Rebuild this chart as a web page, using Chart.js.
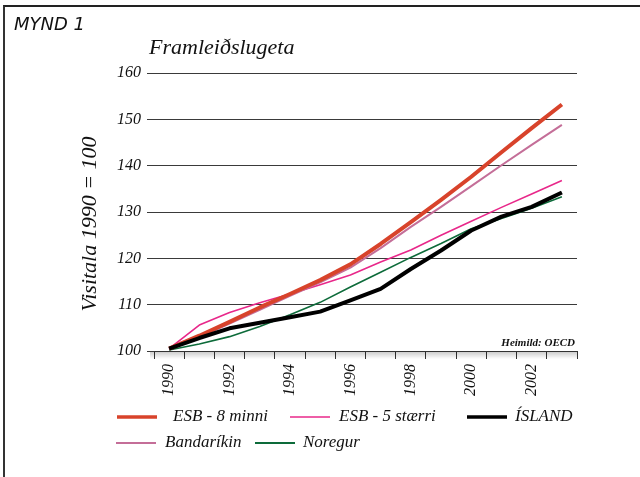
<!DOCTYPE html>
<html>
<head>
<meta charset="utf-8">
<script src="https://cdn.jsdelivr.net/npm/chart.js@4/dist/chart.umd.min.js"></script>
<style>
  body { margin: 0; background: #fff; }
  #wrap { position: relative; width: 640px; height: 477px; }
  #frame { position: absolute; left: 3px; top: 5px; right: 0; bottom: 0;
           border-top: 2px solid #222; border-left: 2px solid #333; pointer-events: none; }
  #mynd { position: absolute; left: 14px; top: 13px; font: italic 18px "DejaVu Sans", sans-serif; color: #111; }
  #title { position: absolute; left: 149px; top: 34px; font: italic 22px "Liberation Serif", serif; color: #111; }
</style>
</head>
<body>
<div id="wrap">
  <canvas id="chart" width="640" height="477"></canvas>
  <div id="frame"></div>
  <div id="mynd">MYND 1</div>
  <div id="title">Framleiðslugeta</div>
</div>
<script>
// ár og vísitölur (1990 = 100), lesið af myndinni
const years = ['1990','1991','1992','1993','1994','1995','1996','1997','1998','1999','2000','2001','2002','2003'];
const esb8 = [100.5,103.3,106.3,109.4,112.3,115.3,118.7,123.1,127.8,132.6,137.6,142.9,148.1,153.2];
const esb5 = [100.5,105.6,108.3,110.4,112.3,114.3,116.4,119.2,121.8,125.0,128.0,131.0,133.9,136.8];
const island = [100.5,102.8,104.9,106.1,107.3,108.5,110.9,113.4,117.7,121.7,126.0,129.0,131.1,134.2];
const bandarikin = [100.4,103.0,105.9,108.9,111.9,114.8,118.0,122.2,126.8,131.1,135.6,140.1,144.5,148.8];
const noregur = [100.2,101.5,103.1,105.3,107.8,110.5,113.8,117.0,120.2,123.2,126.4,128.6,130.8,133.3];
const yTicks = [100,110,120,130,140,150,160];

const serif = '"Liberation Serif", "Times New Roman", serif';

// legend slots: line start, text start, row y
const legendSlots = [
  { x: 117, tx: 173, y: 417 },
  { x: 290, tx: 339, y: 417 },
  { x: 467, tx: 515, y: 417 },
  { x: 116, tx: 165, y: 443 },
  { x: 255, tx: 303, y: 443 }
];

const extras = {
  id: 'extras',
  beforeDatasetsDraw(chart) {
    const { ctx, chartArea } = chart;
    // skuggi undir x-ás
    const g = ctx.createLinearGradient(0, chartArea.bottom, 0, chartArea.bottom + 8);
    g.addColorStop(0, 'rgba(0,0,0,0.22)');
    g.addColorStop(1, 'rgba(0,0,0,0)');
    ctx.save();
    ctx.fillStyle = g;
    ctx.fillRect(chartArea.left - 4, chartArea.bottom + 1, chartArea.right - chartArea.left + 4, 8);
    ctx.restore();
  },
  afterDraw(chart) {
    const { ctx, chartArea } = chart;
    ctx.save();
    ctx.fillStyle = '#111';
    // y-ás titill
    ctx.translate(90, 224);
    ctx.rotate(-Math.PI / 2);
    ctx.font = 'italic 22px ' + serif;
    ctx.textAlign = 'center';
    ctx.textBaseline = 'middle';
    ctx.fillText('Visitala 1990 = 100', 0, 0);
    ctx.restore();

    ctx.save();
    ctx.fillStyle = '#111';
    ctx.font = 'italic bold 11px ' + serif;
    ctx.textAlign = 'right';
    ctx.textBaseline = 'middle';
    ctx.fillText('Heimild: OECD', chartArea.right - 2, chartArea.bottom - 8);

    ctx.font = 'italic 17px ' + serif;
    ctx.textAlign = 'left';
    chart.data.datasets.forEach((ds, i) => {
      const s = legendSlots[i];
      ctx.strokeStyle = ds.borderColor;
      ctx.lineWidth = ds.legendWidth;
      ctx.beginPath();
      ctx.moveTo(s.x, s.y);
      ctx.lineTo(s.x + 40, s.y);
      ctx.stroke();
      ctx.fillText(ds.label, s.tx, s.y);
    });
    ctx.restore();
  }
};

new Chart(document.getElementById('chart'), {
  type: 'line',
  data: {
    labels: years,
    datasets: [
      { label: 'ESB - 8 minni', data: esb8, borderColor: '#d8432b', borderWidth: 4, legendWidth: 3.5, order: 1 },
      { label: 'ESB - 5 stærri', data: esb5, borderColor: '#e8288a', borderWidth: 1.6, legendWidth: 1.6, order: 3 },
      { label: 'ÍSLAND', data: island, borderColor: '#000000', borderWidth: 4, legendWidth: 3.5, order: 0 },
      { label: 'Bandaríkin', data: bandarikin, borderColor: '#c46e98', borderWidth: 2, legendWidth: 2, order: 2 },
      { label: 'Noregur', data: noregur, borderColor: '#0d6b3a', borderWidth: 1.6, legendWidth: 2, order: 4 }
    ]
  },
  options: {
    responsive: false,
    animation: false,
    events: [],
    layout: { padding: { top: 73, right: 63, bottom: 0, left: 0 } },
    elements: {
      point: { radius: 0 },
      line: { tension: 0, borderJoinStyle: 'round', borderCapStyle: 'butt' }
    },
    plugins: {
      legend: { display: false },
      tooltip: { enabled: false }
    },
    scales: {
      x: {
        offset: true,
        grid: { offset: true, drawOnChartArea: false, tickLength: 8, color: '#333' },
        border: { color: '#333', width: 1 },
        ticks: {
          autoSkip: false,
          minRotation: 90,
          maxRotation: 90,
          padding: 5,
          color: '#111',
          font: { family: serif, style: 'italic', size: 16 },
          callback: (v, i) => (i % 2 === 0 ? years[i] : '')
        },
        afterFit: (scale) => { scale.height = 126; }
      },
      y: {
        min: yTicks[0],
        max: yTicks[yTicks.length - 1],
        afterBuildTicks: (scale) => { scale.ticks = yTicks.map(v => ({ value: v })); },
        grid: { color: '#3a3a3a', tickLength: 7 },
        border: { display: false },
        ticks: {
          padding: 6,
          color: '#111',
          font: { family: serif, style: 'italic', size: 16 }
        },
        afterFit: (scale) => { scale.width = 154; }
      }
    }
  },
  plugins: [extras]
});
</script>
</body>
</html>
